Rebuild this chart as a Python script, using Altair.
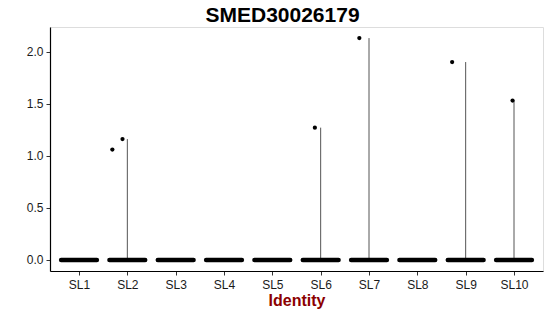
import altair as alt
import pandas as pd

categories = ["SL1", "SL2", "SL3", "SL4", "SL5", "SL6", "SL7", "SL8", "SL9", "SL10"]
cat_index = list(range(1, 11))
# maximum expression per identity (violin extent)
violin_max = [0.0, 1.16, 0.0, 0.0, 0.0, 1.27, 2.13, 0.0, 1.90, 1.53]
# non-zero cells: identity, jitter offset, value
pt_cat = ["SL2", "SL2", "SL6", "SL7", "SL9", "SL10"]
pt_offset = [-0.31, -0.10, -0.12, -0.20, -0.28, -0.03]
pt_value = [1.06, 1.16, 1.27, 2.13, 1.90, 1.53]
# horizontal jitter extent of the many zero-valued cells
zero_halfwidth = [0.37] * 10

FONT = "Liberation Sans"

idx_of = dict(zip(categories, cat_index))

viol = pd.DataFrame({"cat": categories, "idx": cat_index, "vmax": violin_max, "zero": 0.0})
viol = viol[viol["vmax"] > 0]

strip = pd.DataFrame({
    "cat": categories,
    "lo": [i - h for i, h in zip(cat_index, zero_halfwidth)],
    "hi": [i + h for i, h in zip(cat_index, zero_halfwidth)],
    "zero": 0.0,
})

pts = pd.DataFrame({
    "cat": pt_cat,
    "x": [idx_of[c] + o for c, o in zip(pt_cat, pt_offset)],
    "value": pt_value,
})

label_expr = "[" + ",".join("'%s'" % c for c in categories) + "][datum.value - 1]"

xscale = alt.Scale(domain=[0.4, 10.6], nice=False, zero=False)
yscale = alt.Scale(domain=[-0.1065, 2.2365], nice=False, zero=False)

xaxis = alt.Axis(values=cat_index, labelExpr=label_expr, title="Identity",
                 grid=False, domainColor="#000000", domainWidth=1.2,
                 tickColor="#333333", tickSize=4, labelFontSize=12, labelColor="#1a1a1a",
                 labelFont=FONT, labelPadding=4,
                 titleFont=FONT, titleFontSize=16, titleFontWeight="bold",
                 titleColor="#8B0000", titlePadding=2)
yaxis = alt.Axis(values=[0, 0.5, 1.0, 1.5, 2.0], format=".1f", title=None,
                 grid=False, domainColor="#000000", domainWidth=1.2,
                 tickColor="#333333", tickSize=4, labelFontSize=12, labelColor="#1a1a1a",
                 labelFont=FONT, labelPadding=3)

violins = alt.Chart(viol).mark_rule(color="#555555", strokeWidth=1).encode(
    x=alt.X("idx:Q", scale=xscale, axis=xaxis),
    y=alt.Y("zero:Q", scale=yscale, axis=yaxis),
    y2="vmax:Q",
)

zeros = alt.Chart(strip).mark_rule(color="#000000", strokeWidth=4.5, strokeCap="round").encode(
    x=alt.X("lo:Q", scale=xscale),
    x2="hi:Q",
    y=alt.Y("zero:Q", scale=yscale),
)

points = alt.Chart(pts).mark_circle(color="#000000", size=18, opacity=1).encode(
    x=alt.X("x:Q", scale=xscale),
    y=alt.Y("value:Q", scale=yscale),
)

chart = alt.layer(violins, zeros, points).properties(
    width=493,
    height=244,
    title=alt.TitleParams("SMED30026179", font=FONT, fontSize=21, fontWeight="bold",
                          color="#000000", anchor="middle", dx=-14, offset=1),
    autosize=alt.AutoSizeParams(type="none"),
    padding={"left": 50, "top": 27, "right": 7, "bottom": 45},
).configure_view(stroke=None).configure(background="#ffffff")

chart.save("out.html", embed_options={"renderer": "svg", "actions": False})
